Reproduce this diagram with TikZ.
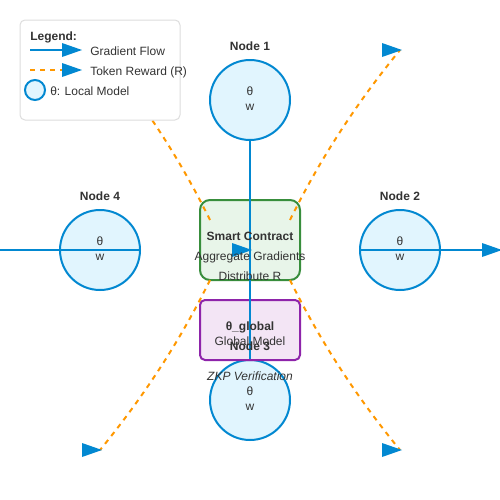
\documentclass[tikz,border=0pt]{standalone}
\usepackage{fontspec}
\setmainfont{Liberation Sans}

\definecolor{flowblue}{HTML}{0288D1}
\definecolor{nodefill}{HTML}{E1F5FE}
\definecolor{rewardorange}{HTML}{FF9800}
\definecolor{scgreen}{HTML}{388E3C}
\definecolor{scfill}{HTML}{E8F5E9}
\definecolor{gmpurple}{HTML}{8E24AA}
\definecolor{gmfill}{HTML}{F3E5F5}
\definecolor{txtgray}{HTML}{333333}
\definecolor{legendgray}{HTML}{DDDDDD}

\tikzset{
  tipmark/.pic={\fill[flowblue] (-18,-7) -- (2,0) -- (-18,7) -- cycle;},
  client/.style={circle, draw=flowblue, fill=nodefill, line width=1.5pt, minimum size=60pt, inner sep=0pt},
  gradline/.style={draw=flowblue, line width=1.5pt},
  rewardline/.style={draw=rewardorange, line width=1.5pt, dash pattern={on 3.75pt off 3.75pt}},
  lbl/.style={text=txtgray, font=\fontsize{9pt}{11pt}\selectfont, inner sep=0pt, anchor=base},
}

\begin{document}
\begin{tikzpicture}[x=0.75pt,y=0.75pt,yscale=-1,xscale=1]
        \fill[white] (0,0) rectangle (500,500);
        \useasboundingbox (0,0) rectangle (500,500);

        %Shape: Circle [clients]
        \node[client] (n1) at (250,100) {};
        \node[client] (n2) at (400,250) {};
        \node[client] (n3) at (250,400) {};
        \node[client] (n4) at (100,250) {};
        %Shape: Rectangle [smart contract]
        \node[draw=scgreen, fill=scfill, line width=1.5pt, rounded corners=7.5pt, minimum width=75pt, minimum height=60pt, inner sep=0pt] (sc) at (250,240) {};
        %Shape: Rectangle [global model]
        \node[draw=gmpurple, fill=gmfill, line width=1.5pt, rounded corners=3.75pt, minimum width=75pt, minimum height=45pt, inner sep=0pt] (gm) at (250,330) {};

        %Straight Lines [gradients]
        \coordinate (hub) at (250,250);
        \coordinate (wend) at (0,250);
        \coordinate (eend) at (500,250);
        \draw[gradline] (n1) -- (hub);
        \draw[gradline] (n3) -- (hub);
        \draw[gradline] (wend) -- (n4.east);
        \draw[gradline] (n2.west) -- (eend);

        %Curve Lines [rewards]
        \coordinate (rtr) at (290,220);
        \coordinate (rbr) at (290,280);
        \coordinate (rtl) at (210,220);
        \coordinate (rbl) at (210,280);
        \coordinate (ctr) at (400,50);
        \coordinate (cbr) at (400,450);
        \coordinate (ctl) at (100,50);
        \coordinate (cbl) at (100,450);
        \draw[rewardline] (rtr) .. controls (319,161) and (355,105) .. (ctr);
        \draw[rewardline] (rbr) .. controls (319,339) and (355,395) .. (cbr);
        \draw[rewardline] (rtl) .. controls (181,161) and (145,105) .. (ctl);
        \draw[rewardline] (rbl) .. controls (181,339) and (145,395) .. (cbl);

        %Arrow heads
        \pic at (hub) {tipmark};
        \pic at (eend) {tipmark};
        \pic at (ctr) {tipmark};
        \pic at (cbr) {tipmark};
        \pic at (cbl) {tipmark};

        % Text Node
        \node[lbl, font=\fontsize{9pt}{11pt}\selectfont\bfseries] (n1name) at (250,50) {Node 1};
        \node[lbl] (n1th) at (250,95) {θ};
        \node[lbl] (n1w) at (250,110) {w};
        % Text Node
        \node[lbl, font=\fontsize{9pt}{11pt}\selectfont\bfseries] (n2name) at (400,200) {Node 2};
        \node[lbl] (n2th) at (400,245) {θ};
        \node[lbl] (n2w) at (400,260) {w};
        % Text Node
        \node[lbl, font=\fontsize{9pt}{11pt}\selectfont\bfseries] (n4name) at (100,200) {Node 4};
        \node[lbl] (n4th) at (100,245) {θ};
        \node[lbl] (n4w) at (100,260) {w};
        % Text Node
        \node[lbl, font=\fontsize{9pt}{11pt}\selectfont\bfseries] (scname) at (250,240) {Smart Contract};
        \node[lbl] (scagg) at (250,260) {Aggregate Gradients};
        \node[lbl] (scdist) at (250,280) {Distribute R};
        % Text Node
        \node[lbl, font=\fontsize{9pt}{11pt}\selectfont\bfseries] (gmname) at (250,330) {θ\_global};
        \node[lbl] (gmtext) at (250,345) {Global Model};
        % Text Node
        \node[lbl, font=\fontsize{9pt}{11pt}\selectfont\bfseries] (n3name) at (250,350) {Node 3};
        \node[lbl, font=\fontsize{9pt}{11pt}\selectfont\itshape] (zkp) at (250,380) {ZKP Verification};
        \node[lbl] (n3th) at (250,395) {θ};
        \node[lbl] (n3w) at (250,410) {w};

        %Shape: Rectangle [legend]
        \node[draw=legendgray, fill=white, line width=0.75pt, rounded corners=3.75pt, minimum width=120pt, minimum height=75pt, inner sep=0pt] (legend) at (100,70) {};
        \node[lbl, anchor=base west, font=\fontsize{9pt}{11pt}\selectfont\bfseries] (lgtitle) at (30,40) {Legend:};
        \coordinate (lgga) at (30,50);
        \coordinate (lggb) at (80,50);
        \draw[gradline] (lgga) -- (lggb);
        \pic at (lggb) {tipmark};
        \node[lbl, anchor=base west] (lggrad) at (90,55) {Gradient Flow};
        \coordinate (lgra) at (30,70);
        \coordinate (lgrb) at (80,70);
        \draw[rewardline] (lgra) -- (lgrb);
        \pic at (lgrb) {tipmark};
        \node[lbl, anchor=base west] (lgreward) at (90,75) {Token Reward (R)};
        \node[client, minimum size=15pt] (lgcirc) at (35,90) {};
        \node[lbl, anchor=base west] (lglocal) at (50,95) {θ: Local Model};

\end{tikzpicture}
\end{document}
